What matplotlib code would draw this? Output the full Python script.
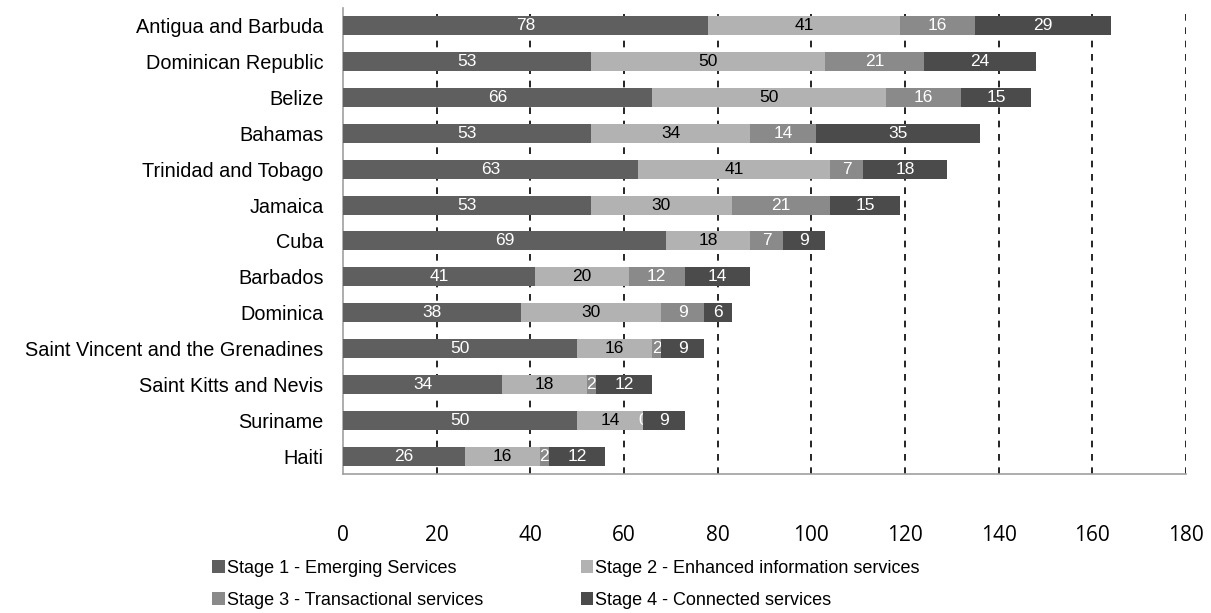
import matplotlib.pyplot as plt
import numpy as np

# Data (top to bottom as shown)
countries = ["Antigua and Barbuda", "Dominican Republic", "Belize", "Bahamas",
             "Trinidad and Tobago", "Jamaica", "Cuba", "Barbados", "Dominica",
             "Saint Vincent and the Grenadines", "Saint Kitts and Nevis",
             "Suriname", "Haiti"]
stage1 = [78, 53, 66, 53, 63, 53, 69, 41, 38, 50, 34, 50, 26]
stage2 = [41, 50, 50, 34, 41, 30, 18, 20, 30, 16, 18, 14, 16]
stage3 = [16, 21, 16, 14, 7, 21, 7, 12, 9, 2, 2, 0, 2]
stage4 = [29, 24, 15, 35, 18, 15, 9, 14, 6, 9, 12, 9, 12]
series_names = ["Stage 1 - Emerging Services",
                "Stage 2 - Enhanced information services",
                "Stage 3 - Transactional services",
                "Stage 4 - Connected services"]
xticks = [0, 20, 40, 60, 80, 100, 120, 140, 160, 180]

colors = ["#5f5f5f", "#b2b2b2", "#8a8a8a", "#4b4b4b"]
text_colors = ["white", "black", "white", "white"]

plt.rcParams['font.family'] = ['Liberation Sans', 'DejaVu Sans']

fig = plt.figure(figsize=(12.11, 6.13), dpi=100)
ax = fig.add_axes([0.2832, 0.2268, 0.6962, 0.7602])

y = np.arange(len(countries))
left = np.zeros(len(countries))
handles = []
for vals, c, tc, name in zip([stage1, stage2, stage3, stage4], colors, text_colors, series_names):
    bars = ax.barh(y, vals, left=left, height=0.53, color=c, label=name, zorder=3)
    ax.bar_label(bars, labels=[str(v) for v in vals], label_type='center',
                 color=tc, fontsize=12.5)
    handles.append(bars)
    left += np.array(vals)

ax.set_ylim(len(countries) - 0.5, -0.5)
ax.set_xlim(0, 180)
ax.set_yticks(y)
ax.set_yticklabels(countries, fontsize=14.3)
ax.set_xticks(xticks)
ax.set_xticklabels([str(t) for t in xticks], fontsize=15, family=['Open Sans', 'DejaVu Sans'])
ax.tick_params(axis='x', length=0, pad=37)
ax.tick_params(axis='y', length=0, pad=14)

for t in xticks[1:]:
    ax.axvline(t, color='black', linestyle=(0, (4, 4)), linewidth=1.2, zorder=1)

for s in ['top', 'right']:
    ax.spines[s].set_visible(False)
for s in ['left', 'bottom']:
    ax.spines[s].set_color('#a0a0a0')
    ax.spines[s].set_linewidth(1.2)

order = [0, 2, 1, 3]
fig.legend([handles[i] for i in order], [series_names[i] for i in order],
           ncol=2, loc='lower left', bbox_to_anchor=(0.162, -0.02),
           frameon=False, fontsize=13, handlelength=0.7, handleheight=0.7,
           handletextpad=0.1, columnspacing=5.4, labelspacing=0.85)

fig.savefig("out.png", dpi=100)
